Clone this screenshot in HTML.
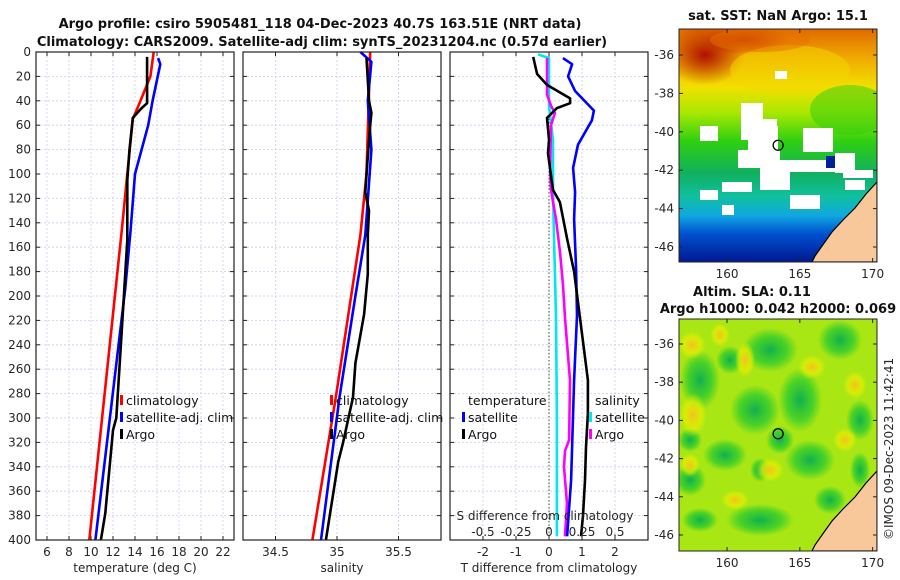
<!DOCTYPE html>
<html><head><meta charset="utf-8">
<style>
html,body{margin:0;padding:0;background:#fff;width:900px;height:580px;overflow:hidden}
svg{display:block;font-family:"DejaVu Sans","Liberation Sans",sans-serif}
.t{font-size:13px;font-weight:bold;fill:#111}
.tk{font-size:12px;fill:#262626}
.lg{font-size:12.5px;fill:#111}
</style></head>
<body>
<svg id="fig" width="900" height="580" viewBox="0 0 900 580" xmlns="http://www.w3.org/2000/svg">
<defs>
<linearGradient id="sstg" x1="0" y1="0" x2="0" y2="1">
<stop offset="0" stop-color="#e06a00"/><stop offset="0.12" stop-color="#f0a800"/><stop offset="0.25" stop-color="#f2e000"/><stop offset="0.36" stop-color="#a8e800"/><stop offset="0.48" stop-color="#30d010"/><stop offset="0.62" stop-color="#10b060"/><stop offset="0.72" stop-color="#10c0a0"/><stop offset="0.8" stop-color="#10a8e0"/><stop offset="0.88" stop-color="#0050d0"/><stop offset="1" stop-color="#001890"/>
</linearGradient>
<radialGradient id="hot"><stop offset="0" stop-color="#b01000"/><stop offset="1" stop-color="#b01000" stop-opacity="0"/></radialGradient>
<radialGradient id="ye"><stop offset="0" stop-color="#f5c020"/><stop offset="0.6" stop-color="#e8f000" stop-opacity="0.7"/><stop offset="1" stop-color="#e8f000" stop-opacity="0"/></radialGradient>
<radialGradient id="gr"><stop offset="0" stop-color="#10b050"/><stop offset="0.6" stop-color="#20c830" stop-opacity="0.7"/><stop offset="1" stop-color="#20c830" stop-opacity="0"/></radialGradient>
<clipPath id="m1c"><rect x="679" y="29" width="198" height="233"/></clipPath>
<clipPath id="m2c"><rect x="679" y="319" width="198" height="232"/></clipPath>
</defs>
<text class="t" x="320" y="28" text-anchor="middle">Argo profile: csiro 5905481_118 04-Dec-2023 40.7S 163.51E (NRT data)</text>
<text class="t" x="322" y="46" text-anchor="middle">Climatology: CARS2009. Satellite-adj clim: synTS_20231204.nc (0.57d earlier)</text>
<g id="panels"></g>
<g id="maps"></g>
<text class="tk" transform="translate(893,540) rotate(-90)">©IMOS 09-Dec-2023 11:42:41</text>
</svg>
<script>
// ---- data ----
const depthTicks=[0,20,40,60,80,100,120,140,160,180,200,220,240,260,280,300,320,340,360,380,400];
// temperature panel
const tClimDepth=[0,20,40,55,100,146,400];
const tClimVal=[15.7,15.4,14.5,13.8,13.3,12.8,9.85];
const tSatDepth=[5,10,40,60,80,100,146,195,400];
const tSatVal=[16.1,16.3,15.6,15.2,14.6,14.0,13.6,13.1,10.4];
const tArgoDepth=[4,40,42,46,54,80,105,154,228,300,310,378,400];
const tArgoVal=[15.1,15.1,15.1,14.6,13.8,13.5,13.3,13.3,12.8,12.3,12.0,11.3,10.9];
const tTicks=[6,8,10,12,14,16,18,20,22];
// salinity panel
const sClimDepth=[0,100,150,283,400];
const sClimVal=[35.27,35.24,35.19,34.99,34.80];
const sSatDepth=[0,8,40,80,150,200,283,400];
const sSatVal=[35.19,35.28,35.25,35.28,35.23,35.15,35.02,34.87];
const sArgoDepth=[5,40,50,60,100,115,130,150,182,215,255,283,320,336,400];
const sArgoVal=[35.24,35.26,35.28,35.27,35.24,35.23,35.26,35.25,35.25,35.22,35.15,35.13,35.05,35.01,34.91];
const sTicks=[34.5,35,35.5];
const sTickLabels=["34.5","35","35.5"];
// difference panel
const dTSatDepth=[5,10,20,32,48,56,76,95,115,137,178,216,269,351,397];
const dTSatVal=[0.42,0.7,0.58,0.79,1.36,1.3,0.88,0.73,0.79,0.76,0.82,0.85,0.76,0.67,0.55];
const dTArgoDepth=[4,18,27,38,42,46,54,72,83,113,123,153,180,218,269,296,324,351,380,397];
const dTArgoVal=[-0.48,-0.36,-0.06,0.64,0.64,0.24,-0.06,0,-0.03,0.12,0.33,0.55,0.76,0.94,1.18,1.18,1.12,1.09,1.03,0.97];
const dSSatDepth=[2,5,20,44,72,113,153,180,218,300,397];
const dSSatVal=[-0.083,0,0,0,0.03,0.03,0.038,0.045,0.053,0.06,0.06];
const dSArgoDepth=[5,35,44,50,60,95,113,137,164,191,218,269,318,327,340,370,397];
const dSArgoVal=[-0.015,-0.015,0.015,0.045,0.015,0.008,0.015,0.053,0.083,0.106,0.121,0.159,0.152,0.121,0.114,0.136,0.121];
const dTTicks=[-2,-1,0,1,2];
const dSTicks=[-0.5,-0.25,0,0.25,0.5];
const dSTickLabels=["-0.5","-0.25","0","0.25","0.5"];
// map ticks
const lonTicks=[160,165,170];
const latTicks=[-36,-38,-40,-42,-44,-46];
const argoLon=163.51, argoLat=-40.7;

const NS="http://www.w3.org/2000/svg";
function mk(tag,attrs,parent){const e=document.createElementNS(NS,tag);for(const k in attrs)e.setAttribute(k,attrs[k]);parent.appendChild(e);return e;}
const P=document.getElementById('panels');
const topY=52,botY=540;
function yD(d){return topY+(d/400)*(botY-topY);}

function panel(name,x0,x1,vmin,vmax){
  const g=mk('g',{},P);
  
  
  const sx=v=>x0+(v-vmin)/(vmax-vmin)*(x1-x0);
  return {g,sx,x0,x1};
}
function grid(p,xt){
  xt.forEach(v=>{const l=mk('line',{x1:p.sx(v),x2:p.sx(v),y1:topY,y2:botY,stroke:'#c8cde8','stroke-width':0.8,'stroke-dasharray':'2,2'},p.g);
    });
  depthTicks.forEach(d=>{const l=mk('line',{x1:p.x0,x2:p.x1,y1:yD(d),y2:yD(d),stroke:'#c8cde8','stroke-width':0.8,'stroke-dasharray':'2,2'},p.g);
    
    mk('line',{x1:p.x0,x2:p.x0+4,y1:yD(d),y2:yD(d),stroke:'#222'},p.g);
    mk('line',{x1:p.x1,x2:p.x1-4,y1:yD(d),y2:yD(d),stroke:'#222'},p.g);});
  xt.forEach(v=>{mk('line',{x1:p.sx(v),x2:p.sx(v),y1:botY,y2:botY-4,stroke:'#222'},p.g);mk('line',{x1:p.sx(v),x2:p.sx(v),y1:topY,y2:topY+4,stroke:'#222'},p.g);});
}
function frame(p){const r=mk('rect',{x:p.x0,y:topY,width:p.x1-p.x0,height:botY-topY,fill:'none',stroke:'#222','stroke-width':1.2},p.g);
  }
function line(p,dep,val,col,name,sx){
  const f=sx||p.sx;
  const pts=dep.map((d,i)=>f(val[i]).toFixed(1)+','+yD(d).toFixed(1)).join(' ');
  const l=mk('polyline',{points:pts,fill:'none',stroke:col,'stroke-width':2.6,'stroke-linejoin':'round'},p.g);
  
  
}
function txt(p,x,y,s,cls,anchor,name){const t=mk('text',{x:x,y:y,class:cls,'text-anchor':anchor||'start'},p.g);t.textContent=s;
  return t;}
function legend(p,x,y,items,name){
  const g=mk('g',{},p.g);
  
  
  items.forEach((it,i)=>{const yy=y+i*17;
    if(it[1])mk('rect',{x:x,y:yy-10,width:3,height:10,fill:it[1]},g);
    const t=mk('text',{x:x+6,y:yy,class:'lg'},g);t.textContent=it[0];});
}

// Panel 1
const p1=panel('temperature-panel',36,234,5,23);
grid(p1,tTicks);
depthTicks.forEach(d=>txt(p1,31,yD(d)+4,String(d),'tk','end','depth-tick-label'));
tTicks.forEach(v=>txt(p1,p1.sx(v),556,String(v),'tk','middle','temperature-tick-label'));
txt(p1,135,572,'temperature (deg C)','tk','middle','temperature-axis-title');
line(p1,tClimDepth,tClimVal,'#ff0000','temperature-climatology-line');
line(p1,tSatDepth,tSatVal,'#0000ff','temperature-satellite-line');
line(p1,tArgoDepth,tArgoVal,'#000000','temperature-argo-line');
legend(p1,120,405,[['climatology','#ff0000'],['satellite-adj. clim','#0000ff'],['Argo','#000']],'temperature-legend');
frame(p1);

// Panel 2
const s0=35-(337-243)/123, s1=35+(441-337)/123;
const p2=panel('salinity-panel',243,441,s0,s1);
grid(p2,sTicks);
sTicks.forEach((v,i)=>txt(p2,p2.sx(v),556,sTickLabels[i],'tk','middle','salinity-tick-label'));
txt(p2,342,572,'salinity','tk','middle','salinity-axis-title');
line(p2,sClimDepth,sClimVal,'#ff0000','salinity-climatology-line');
line(p2,sSatDepth,sSatVal,'#0000ff','salinity-satellite-line');
line(p2,sArgoDepth,sArgoVal,'#000000','salinity-argo-line');
legend(p2,330,405,[['climatology','#ff0000'],['satellite-adj. clim','#0000ff'],['Argo','#000']],'salinity-legend');
frame(p2);

// Panel 3
const p3=panel('difference-panel',450,648,-3,3);
const sxS=v=>p3.sx(v*4);
grid(p3,dTTicks);
const zl=mk('line',{x1:p3.sx(0),x2:p3.sx(0),y1:topY,y2:botY,stroke:'#335533','stroke-width':1,'stroke-dasharray':'1.5,2'},p3.g);

dTTicks.forEach(v=>txt(p3,p3.sx(v),556,String(v),'tk','middle','t-diff-tick-label'));
txt(p3,549,572,'T difference from climatology','tk','middle','t-diff-axis-title');
line(p3,dSSatDepth,dSSatVal,'#00e8ee','s-diff-satellite-line',sxS);
line(p3,dSArgoDepth,dSArgoVal,'#ff00ff','s-diff-argo-line',sxS);
line(p3,dTSatDepth,dTSatVal,'#0000ff','t-diff-satellite-line');
line(p3,dTArgoDepth,dTArgoVal,'#000000','t-diff-argo-line');
txt(p3,545,520,'S difference from climatology','tk','middle','s-diff-axis-title');
dSTicks.forEach((v,i)=>txt(p3,sxS(v),536,dSTickLabels[i],'tk','middle','s-diff-tick-label'));
legend(p3,462,405,[['temperature',null],['satellite','#0000ff'],['Argo','#000']],'t-diff-legend');
legend(p3,589,405,[['salinity',null],['satellite','#00e8ee'],['Argo','#ff00ff']],'s-diff-legend');
frame(p3);

// ---- maps ----
const M=document.getElementById('maps');
function mapAxes(name,y0,y1,latLabelY){
  const g=mk('g',{},M);
  
  
  const mx=lon=>679+(lon-156.7)/(170.3-156.7)*198;
  const my=lat=>latLabelY[0]+(-36-lat)/10*(latLabelY[1]-latLabelY[0]);
  return {g,mx,my,y0,y1};
}
function finishMap(m,title,titleYs){
  const g=m.g;
  mk('rect',{x:679,y:m.y0,width:198,height:m.y1-m.y0,fill:'none',stroke:'#222','stroke-width':1},g);
  lonTicks.forEach(v=>{mk('line',{x1:m.mx(v),x2:m.mx(v),y1:m.y1,y2:m.y1-4,stroke:'#222'},g);mk('line',{x1:m.mx(v),x2:m.mx(v),y1:m.y0,y2:m.y0+4,stroke:'#222'},g);
    const t=mk('text',{x:m.mx(v),y:m.y1+16,class:'tk','text-anchor':'middle'},g);t.textContent=String(v);
    });
  latTicks.forEach(v=>{mk('line',{x1:679,x2:683,y1:m.my(v),y2:m.my(v),stroke:'#222'},g);mk('line',{x1:877,x2:873,y1:m.my(v),y2:m.my(v),stroke:'#222'},g);
    const t=mk('text',{x:674,y:m.my(v)+4,class:'tk','text-anchor':'end'},g);t.textContent=String(v);
    });
  title.forEach((s,i)=>{const t=mk('text',{x:i===0&&title.length>1?752:778,y:titleYs[i],class:'t','text-anchor':'middle'},g);t.textContent=s;
    });
  const c=mk('circle',{cx:m.mx(argoLon),cy:m.my(argoLat),r:5,fill:'none',stroke:'#000','stroke-width':1.3},g);
  
}
function land(g,y1){
  const l=mk('path',{d:`M877,${y1-80} L866,${y1-68} L855,${y1-54} L843,${y1-42} L832,${y1-30} L822,${y1-16} L815,${y1-6} L812,${y1} L877,${y1} Z`,fill:'#f9c89a',stroke:'#000','stroke-width':1.2},g);
  
}
// SST map
const m1=mapAxes('sst-map',29,262,[55,247]);
const g1=mk('g',{'clip-path':'url(#m1c)'},m1.g);
mk('rect',{x:679,y:29,width:198,height:233,fill:'url(#sstg)'},g1);
mk('ellipse',{cx:705,cy:55,rx:40,ry:30,fill:'url(#hot)'},g1);
mk('ellipse',{cx:745,cy:40,rx:45,ry:15,fill:'url(#hot)',opacity:0.7},g1);
mk('ellipse',{cx:850,cy:110,rx:40,ry:25,fill:'#30cc10',opacity:0.5},g1);
mk('ellipse',{cx:790,cy:70,rx:60,ry:25,fill:'#f4d800',opacity:0.5},g1);
mk('ellipse',{cx:760,cy:40,rx:50,ry:12,fill:'#e87000',opacity:0.5},g1);
[[741,103,22,37],[763,119,14,30],[748,126,30,27],[700,126,18,15],[738,150,42,18],[760,160,30,30],[790,160,50,12],[803,128,30,24],[835,153,20,20],[843,170,30,8],[700,190,18,10],[722,182,30,10],[722,205,12,10],[790,195,30,14],[845,180,20,10],[775,71,12,8]].forEach(r=>{
  const e=mk('rect',{x:r[0],y:r[1],width:r[2],height:r[3],fill:'#fff'},g1);
  });
mk('rect',{x:826,y:156,width:9,height:12,fill:'#0020a0'},g1);
land(g1,262);
finishMap(m1,['sat. SST: NaN Argo: 15.1'],[20]);
// SLA map
const m2=mapAxes('sla-map',319,551,[344,535]);
const g2=mk('g',{'clip-path':'url(#m2c)'},m2.g);
mk('rect',{x:679,y:319,width:198,height:232,fill:'#a8e614'},g2);
[[770,350,28,22],[700,380,20,30],[755,410,25,25],[800,400,22,32],[810,460,25,20],[690,480,16,16],[760,520,34,16],[840,340,22,20],[725,455,22,16],[730,360,14,14],[690,440,12,12],[860,420,14,20],[780,440,14,14],[700,520,18,12],[830,500,16,14],[760,470,10,12],[690,590,10,10],[860,470,10,18]].forEach(r=>{
  const e=mk('ellipse',{cx:r[0],cy:r[1],rx:r[2],ry:r[3],fill:'url(#gr)'},g2);
  });
[[692,345,14,14],[693,415,14,22],[690,465,10,12],[812,367,14,12],[745,360,10,18],[855,385,12,14],[770,470,14,12],[720,335,10,12],[735,500,14,10],[845,440,12,12]].forEach(r=>{
  const e=mk('ellipse',{cx:r[0],cy:r[1],rx:r[2],ry:r[3],fill:'url(#ye)'},g2);
  });
land(g2,551);
finishMap(m2,['Altim. SLA: 0.11','Argo h1000: 0.042 h2000: 0.069'],[296,313]);
</script>
</body></html>
